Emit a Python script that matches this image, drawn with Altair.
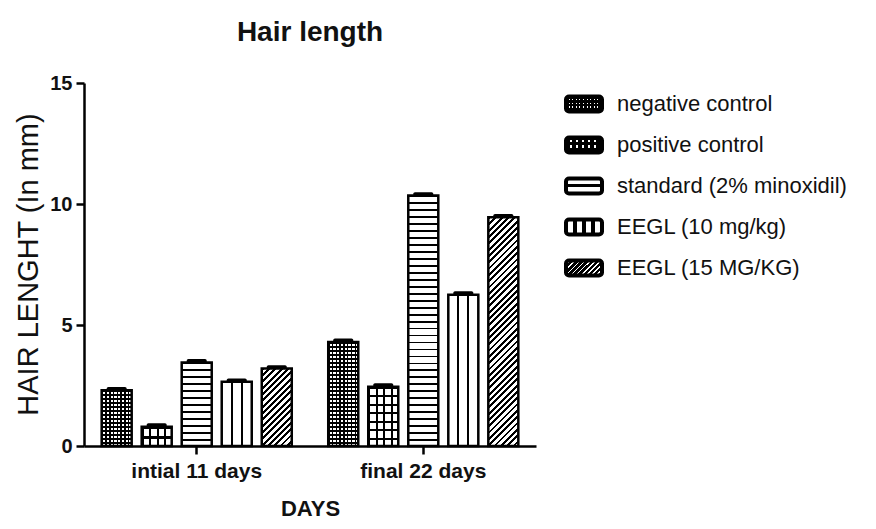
import math
import altair as alt
import pandas as pd

# ---------------- data ----------------
groups = ["intial 11 days", "final 22 days"]
series = ["negative control", "positive control", "standard (2% minoxidil)",
          "EEGL (10 mg/kg)", "EEGL (15 MG/KG)"]
initial_mm = [2.3, 0.8, 3.45, 2.65, 3.2]
final_mm = [4.3, 2.45, 10.35, 6.25, 9.45]
initial_err = [0.14, 0.14, 0.14, 0.14, 0.14]
final_err = [0.14, 0.14, 0.14, 0.14, 0.14]
y_ticks = [0, 5, 10, 15]

# ---------------- layout ----------------
FONT = "Liberation Sans"
INK = "#111111"
W, H = 452, 363
YMAX = 15
PX = H / YMAX
X_PAD_IN, X_PAD_OUT = 0.161, 0.078
SUB_PAD = 0.25
GROUP_STEP = W / (2 - X_PAD_IN + 2 * X_PAD_OUT)
BAND = GROUP_STEP * (1 - X_PAD_IN)
SUB_STEP = BAND / (5 - SUB_PAD)
BAR_W = SUB_STEP * (1 - SUB_PAD)
# narrower sub-bands with identical centres, for the error caps
CAP_FRAC = 0.5
CAP_PAD_IN = 1 - CAP_FRAC
CAP_PAD_OUT = (CAP_PAD_IN - SUB_PAD) / 2

CLEAR = "rgba(0,0,0,0)"

rows = []
for g, vals, errs in [(groups[0], initial_mm, initial_err), (groups[1], final_mm, final_err)]:
    for s, v, e in zip(series, vals, errs):
        rows.append({"group": g, "series": s, "value": v, "top": v + e})
df = pd.DataFrame(rows)


# ---------------- pattern helpers (gradients) ----------------
def _stops(n, frac, fg, bg):
    st = []
    for i in range(n):
        a, b, c = i / n, (i + frac) / n, (i + 1) / n
        st += [{"offset": round(a, 5), "color": fg}, {"offset": round(b, 5), "color": fg},
               {"offset": round(b, 5), "color": bg}, {"offset": round(c, 5), "color": bg}]
    return st


def hstripes(h_px, period, frac, fg="black", bg="white"):
    n = max(1, round(h_px / period))
    return {"gradient": "linear", "x1": 0, "y1": 0, "x2": 0, "y2": 1,
            "stops": _stops(n, frac, fg, bg)}


def vstripes(w_px, period, frac, fg="black", bg="white"):
    n = max(1, round(w_px / period))
    return {"gradient": "linear", "x1": 0, "y1": 0, "x2": 1, "y2": 0,
            "stops": _stops(n, frac, fg, bg)}


def lines(size_px, positions, thick_px, vertical=True, fg="black", bg="white"):
    d = thick_px / 2 / size_px
    st = [{"offset": 0, "color": bg}]
    for p in positions:
        st += [{"offset": round(p - d, 5), "color": bg}, {"offset": round(p - d, 5), "color": fg},
               {"offset": round(p + d, 5), "color": fg}, {"offset": round(p + d, 5), "color": bg}]
    st.append({"offset": 1, "color": bg})
    if vertical:
        return {"gradient": "linear", "x1": 0, "y1": 0, "x2": 1, "y2": 0, "stops": st}
    return {"gradient": "linear", "x1": 0, "y1": 0, "x2": 0, "y2": 1, "stops": st}


def hatch(w_px, h_px, period, frac, fg="black", bg="white"):
    k = (w_px + h_px) / (w_px ** 2 + h_px ** 2)
    n = max(1, round((w_px + h_px) / (math.sqrt(2) * period)))
    return {"gradient": "linear", "x1": 0, "y1": 0, "x2": round(k * w_px, 5),
            "y2": round(k * h_px, 5), "stops": _stops(n, frac, fg, bg)}


def bar_patterns(s, w, h):
    if s == series[0]:
        return [hstripes(h, 4, 0.4), vstripes(w, 4, 0.4, bg=CLEAR)]
    if s == series[1]:
        return [hstripes(h, 8, 0.25), vstripes(w, 8, 0.25, bg=CLEAR)]
    if s == series[2]:
        return [hstripes(h, 7, 0.25)]
    if s == series[3]:
        return [lines(w, [1 / 3, 2 / 3], 2)]
    return [hatch(w, h, 4.5, 0.45)]


def legend_patterns(s, w, h):
    if s == series[0]:
        return [vstripes(w, 3.5, 0.7), hstripes(h, 3.5, 0.6, bg=CLEAR)]
    if s == series[1]:
        return [vstripes(w, 6, 0.6), hstripes(h, 5, 0.6, bg=CLEAR)]
    if s == series[2]:
        return [lines(h, [0.5], 3, vertical=False)]
    if s == series[3]:
        return [lines(w, [0.25, 0.5, 0.75], 3.5)]
    return [hatch(w, h, 3.5, 0.65)]


# ---------------- main bars ----------------
x_axis = alt.Axis(title="DAYS", titleFont=FONT, titleFontSize=22, titleFontWeight="bold",
                  titleColor=INK, titlePadding=17,
                  labelFont=FONT, labelFontSize=21, labelFontWeight="bold", labelColor=INK,
                  labelAngle=0, labelPadding=6, tickSize=8, tickWidth=2.5, tickColor="black",
                  domainColor="black", domainWidth=2.5, grid=False)
y_axis = alt.Axis(values=y_ticks, title="HAIR LENGHT (In mm)", titleFont=FONT, titleFontSize=29,
                  titleFontWeight="normal", titleColor=INK, titleX=-47, titleY=181,
                  titleBaseline="alphabetic", titleAngle=270,
                  labelFont=FONT, labelFontSize=20, labelFontWeight="bold", labelColor=INK,
                  labelPadding=4, tickSize=8, tickWidth=2.5, tickColor="black",
                  domainColor="black", domainWidth=2.5, grid=False)

x_enc = alt.X("group:N", sort=groups, axis=x_axis,
              scale=alt.Scale(paddingInner=X_PAD_IN, paddingOuter=X_PAD_OUT))
y_enc = alt.Y("value:Q", axis=y_axis, scale=alt.Scale(domain=[0, YMAX], nice=False))

base = alt.Chart(df).encode(
    x=x_enc,
    xOffset=alt.XOffset("series:N", sort=series,
                        scale=alt.Scale(paddingInner=SUB_PAD, paddingOuter=0)),
    y=y_enc,
)

layers = []
for r in rows:
    hpx = r["value"] * PX
    for grad in bar_patterns(r["series"], BAR_W, hpx):
        layers.append(
            base.transform_filter(
                (alt.datum.group == r["group"]) & (alt.datum.series == r["series"])
            ).mark_bar(fill=grad, strokeWidth=0)
        )
layers.append(base.mark_bar(fill="transparent", stroke="black", strokeWidth=2.5))

caps = alt.Chart(df).mark_bar(color="black", cornerRadiusTopLeft=3, cornerRadiusTopRight=3).encode(
    x=x_enc,
    xOffset=alt.XOffset("series:N", sort=series,
                        scale=alt.Scale(paddingInner=CAP_PAD_IN, paddingOuter=CAP_PAD_OUT)),
    y=y_enc,
    y2="top:Q",
)
main = alt.layer(alt.layer(*layers), caps).resolve_scale(xOffset="independent")

# ---------------- legend ----------------
LEG_W, LEG_H = 36, 15
LEG_STEP = 41
LEG_Y0 = 21 - LEG_STEP / 2
leg_df = pd.DataFrame({"series": series})
leg_scale = alt.Scale(domain=series, range=[LEG_Y0, LEG_Y0 + 5 * LEG_STEP],
                      paddingInner=1 - LEG_H / LEG_STEP, paddingOuter=(1 - LEG_H / LEG_STEP) / 2)
leg_base = alt.Chart(leg_df).encode(y=alt.Y("series:N", sort=series, scale=leg_scale, axis=None))
leg_layers = []
for s in series:
    for grad in legend_patterns(s, LEG_W, LEG_H):
        leg_layers.append(
            leg_base.transform_filter(alt.datum.series == s)
            .mark_rect(fill=grad, strokeWidth=0, cornerRadius=3)
            .encode(x=alt.value(482), x2=alt.value(482 + LEG_W))
        )
leg_layers.append(
    leg_base.mark_rect(fill="transparent", stroke="black", strokeWidth=4, cornerRadius=3)
    .encode(x=alt.value(482), x2=alt.value(482 + LEG_W))
)
leg_layers.append(
    leg_base.mark_text(align="left", baseline="middle", font=FONT, fontSize=22, color=INK)
    .encode(x=alt.value(533), text="series:N")
)
legend = alt.layer(*leg_layers)

chart = (
    alt.layer(main, legend)
    .resolve_scale(y="independent")
    .properties(
        width=W, height=H,
        autosize=alt.AutoSizeParams(type="none"),
        padding={"left": 76, "top": 75, "right": 876 - 16 - 76 - W, "bottom": 529 - 16 - 75 - H},
        title=alt.TitleParams("Hair length", font=FONT, fontSize=28, fontWeight="bold",
                              color=INK, anchor="middle", frame="group", offset=26),
        background="white",
    )
    .configure_view(strokeWidth=0)
)

chart.save("out.html", embed_options={"renderer": "svg", "actions": False})
